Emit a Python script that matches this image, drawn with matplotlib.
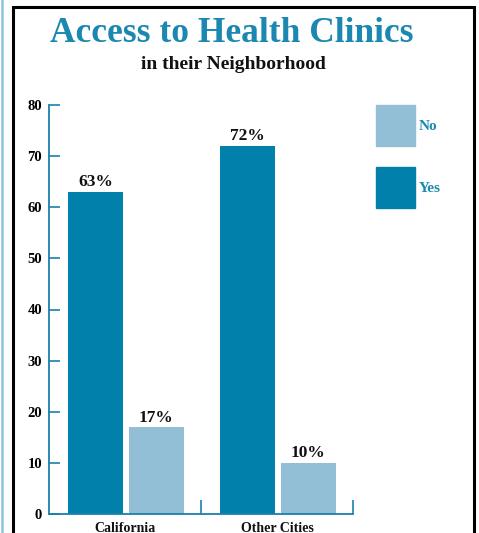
import matplotlib.pyplot as plt
from matplotlib.lines import Line2D
from matplotlib.patches import Rectangle

# Survey results (percent of respondents)
groups = ["California", "Other Cities"]
yes_vals = [63, 72]
no_vals = [17, 10]
y_ticks = [0, 10, 20, 30, 40, 50, 60, 70, 80]

YES_COLOR = "#0080aa"
NO_COLOR = "#92bed6"
TEXT_BLUE = "#1a88b0"
AXIS_BLUE = "#1a80aa"

plt.rcParams["font.family"] = ["Liberation Serif", "DejaVu Serif"]

fig = plt.figure(figsize=(4.79, 5.33), dpi=100)
W, H = 479, 533

def fx(px):
    return px / W

def fy(py):
    return 1 - py / H

# page border lines
fig.add_artist(Line2D([fx(2), fx(2)], [0, 1], color="#8cc4de", lw=1.8))
fig.add_artist(Line2D([fx(13), fx(13), fx(474), fx(474)],
                      [0, fy(6.5), fy(6.5), 0], color="black", lw=2.2,
                      solid_joinstyle="miter"))

ax = fig.add_axes([fx(49), fy(514), fx(353) - fx(49), fy(105) - fy(514)])

bar_w = 0.362
centers = [0.5, 1.5]
yes_x = [c - 0.194 for c in centers]
no_x = [c + 0.206 for c in centers]

ax.bar(yes_x, yes_vals, width=bar_w, color=YES_COLOR, zorder=2)
ax.bar(no_x, no_vals, width=bar_w, color=NO_COLOR, zorder=2)

for x, v in zip(yes_x + no_x, yes_vals + no_vals):
    ax.text(x, v + 0.3, f"{v}%", ha="center", va="bottom",
            fontsize=12.5, fontweight="bold", color="#111111")

ax.set_xlim(0, 2)
ax.set_ylim(0, 80)
ax.set_yticks(y_ticks)
ax.set_yticklabels([str(t) for t in y_ticks], fontsize=10.5, fontweight="bold")
ax.set_xticks([1, 2])
ax.set_xticklabels([])
ax.tick_params(axis="y", direction="in", length=8, width=1.2,
               color=AXIS_BLUE, pad=5)
ax.tick_params(axis="x", direction="in", length=10, width=1.2,
               color=AXIS_BLUE)

for c, name in zip(centers, groups):
    ax.text(c, -1.6, name, ha="center", va="top", fontsize=10,
            fontweight="bold", color="#111111")

for side in ["top", "right"]:
    ax.spines[side].set_visible(False)
for side in ["left", "bottom"]:
    ax.spines[side].set_color(AXIS_BLUE)
    ax.spines[side].set_linewidth(1.3)

# titles
fig.text(fx(232), fy(33), "Access to Health Clinics", ha="center",
         va="center", fontsize=25.5, fontweight="bold", color=TEXT_BLUE)
fig.text(fx(233), fy(64), "in their Neighborhood", ha="center",
         va="center", fontsize=14, fontweight="bold", color="#111111")

# legend swatches
for top, label, col in [(105, "No", NO_COLOR), (167, "Yes", YES_COLOR)]:
    fig.add_artist(Rectangle((fx(376), fy(top + 41)), fx(415) - fx(376),
                             fy(top) - fy(top + 41), color=col,
                             transform=fig.transFigure))
    fig.text(fx(419), fy(top + 21), label, ha="left", va="center",
             fontsize=11, fontweight="bold", color=TEXT_BLUE)

fig.savefig("out.png", dpi=100)
